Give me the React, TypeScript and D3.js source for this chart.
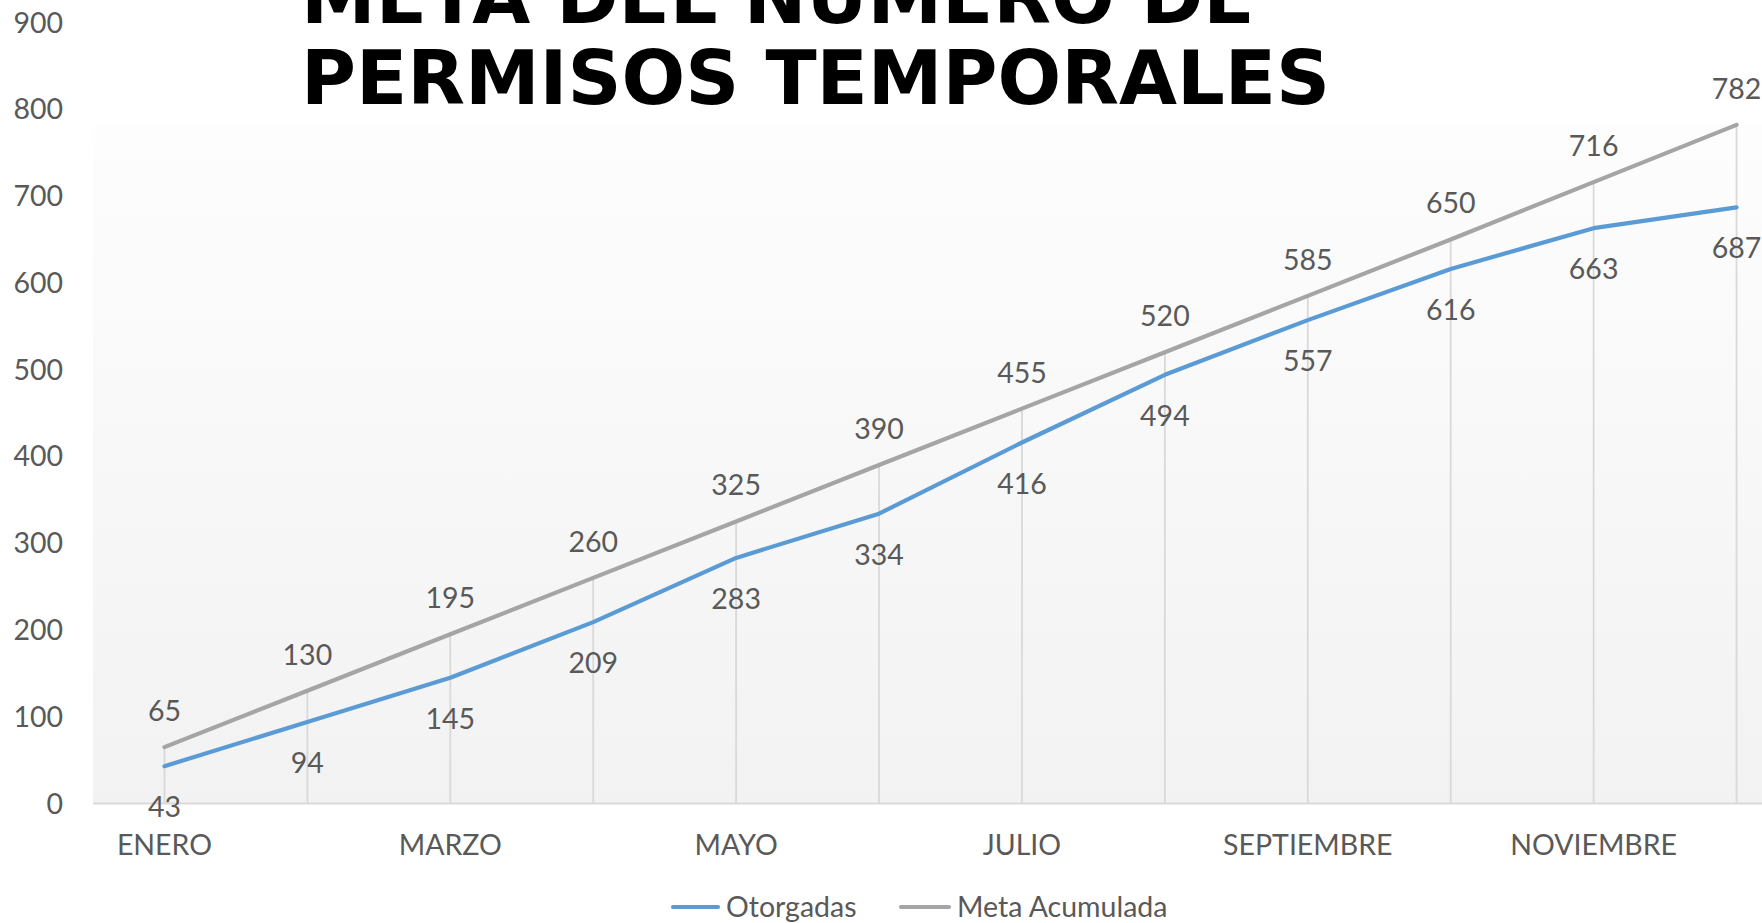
import React from "react";
import * as d3 from "d3";

const months = ["ENERO", "FEBRERO", "MARZO", "ABRIL", "MAYO", "JUNIO", "JULIO", "AGOSTO", "SEPTIEMBRE", "OCTUBRE", "NOVIEMBRE", "DICIEMBRE"];
const otorgadas = [43, 94, 145, 209, 283, 334, 416, 494, 557, 616, 663, 687];
const metaAcumulada = [65, 130, 195, 260, 325, 390, 455, 520, 585, 650, 716, 782];
const yTicks = [0, 100, 200, 300, 400, 500, 600, 700, 800, 900];
const titleLines = ["META DEL NÚMERO DE", "PERMISOS TEMPORALES"];
const seriesNames = ["Otorgadas", "Meta Acumulada"];

const W = 1762;
const H = 923;
const FONT = "Lato, 'Open Sans', sans-serif";
const TEXT = "#595959";
const BLUE = "#5b9bd5";
const GREY = "#a5a5a5";

export default function App() {
  const x = d3.scaleBand<string>().domain(months).range([93, 1808]).paddingInner(0).paddingOuter(0);
  const cx = (m: string) => (x(m) as number) + x.bandwidth() / 2;
  const y = d3.scaleLinear().domain([0, 900]).range([803.5, 22.5]);
  const line = d3
    .line<number>()
    .x((_, i) => cx(months[i]))
    .y((d) => y(d));

  const fs = 28.5;
  const sw = 4.2;
  return (
    <svg width={W} height={H} style={{ position: "absolute", left: 0, top: 0, background: "#fff" }}>
      <defs>
        <linearGradient id="pa" x1="0" y1="0" x2="0" y2="1">
          <stop offset="0" stopColor="#ffffff" />
          <stop offset="1" stopColor="#f2f2f2" />
        </linearGradient>
      </defs>
      <rect x={0} y={0} width={W} height={H} fill="#fff" />
      <rect x={93} y={y(900)} width={1808 - 93} height={y(0) - y(900)} fill="url(#pa)" />
      <rect x={93} y={0} width={W - 93} height={125} fill="#fff" />
      {months.map((m, i) => (
        <line
          key={m}
          x1={cx(m)}
          x2={cx(m)}
          y1={y(Math.max(metaAcumulada[i], otorgadas[i]))}
          y2={y(0)}
          stroke="#d9d9d9"
          strokeWidth={1.8}
        />
      ))}
      <line x1={93} x2={1808} y1={y(0)} y2={y(0)} stroke="#d9d9d9" strokeWidth={2} />
      {yTicks.map((t) => (
        <text key={t} x={63} y={y(t) + 10} textAnchor="end" fontFamily={FONT} fontSize={fs} fill={TEXT}>
          {t}
        </text>
      ))}
      {months.map((m, i) =>
        i % 2 === 0 ? (
          <text key={m} x={cx(m)} y={855} textAnchor="middle" fontFamily={FONT} fontSize={fs} fill={TEXT}>
            {m}
          </text>
        ) : null
      )}
      <path d={line(metaAcumulada) || ""} fill="none" stroke={GREY} strokeWidth={sw} strokeLinejoin="round" strokeLinecap="round" />
      <path d={line(otorgadas) || ""} fill="none" stroke={BLUE} strokeWidth={sw} strokeLinejoin="round" strokeLinecap="round" />
      {metaAcumulada.map((v, i) => (
        <text key={"m" + i} x={cx(months[i])} y={y(v) - 36 + 10} textAnchor="middle" fontFamily={FONT} fontSize={fs} fill={TEXT}>
          {v}
        </text>
      ))}
      {otorgadas.map((v, i) => (
        <text key={"o" + i} x={cx(months[i])} y={y(v) + 41 + 10} textAnchor="middle" fontFamily={FONT} fontSize={fs} fill={TEXT}>
          {v}
        </text>
      ))}
      {titleLines.map((t, i) => (
        <text key={t} x={301} y={22.5 + i * 81} fontFamily="'DejaVu Sans', Verdana, sans-serif" fontWeight="bold" fontSize={75} fill="#000">
          {t}
        </text>
      ))}
      <line x1={673} x2={718} y1={907} y2={907} stroke={BLUE} strokeWidth={sw} strokeLinecap="round" />
      <text x={726} y={917} fontFamily={FONT} fontSize={fs} fill={TEXT}>
        {seriesNames[0]}
      </text>
      <line x1={901} x2={949} y1={907} y2={907} stroke={GREY} strokeWidth={sw} strokeLinecap="round" />
      <text x={957} y={917} fontFamily={FONT} fontSize={fs} fill={TEXT}>
        {seriesNames[1]}
      </text>
    </svg>
  );
}
